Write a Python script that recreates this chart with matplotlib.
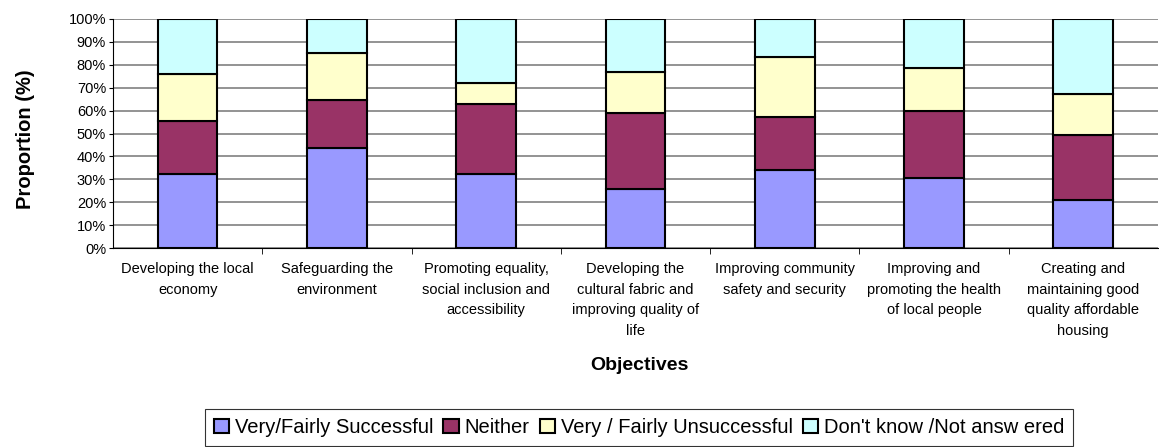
import matplotlib
matplotlib.use("Agg")
import matplotlib.pyplot as plt
import numpy as np
from matplotlib.ticker import MultipleLocator, PercentFormatter, FixedLocator

plt.rcParams["font.family"] = ["Liberation Sans", "DejaVu Sans"]

objectives = [
    "Developing the local\neconomy",
    "Safeguarding the\nenvironment",
    "Promoting equality,\nsocial inclusion and\naccessibility",
    "Developing the\ncultural fabric and\nimproving quality of\nlife",
    "Improving community\nsafety and security",
    "Improving and\npromoting the health\nof local people",
    "Creating and\nmaintaining good\nquality affordable\nhousing",
]
successful = [32.4, 43.9, 32.4, 25.9, 34.2, 30.8, 21.1]
neither = [23.1, 20.7, 30.5, 32.9, 23.0, 28.9, 28.1]
unsuccessful = [20.6, 20.6, 9.2, 18.2, 26.3, 18.9, 17.9]
dont_know = [23.9, 14.8, 27.9, 23.0, 16.5, 21.4, 32.9]

series = [
    ("Very/Fairly Successful", successful, "#9999FF"),
    ("Neither", neither, "#993366"),
    ("Very / Fairly Unsuccessful", unsuccessful, "#FFFFCC"),
    ("Don't know /Not answ ered", dont_know, "#CCFFFF"),
]

fig = plt.figure(figsize=(11.59, 4.47), dpi=100)
ax = fig.add_axes([0.0975, 0.445, 0.9015, 0.5125])

x = np.arange(len(objectives))
bottom = np.zeros(len(objectives))
for name, vals, col in series:
    ax.bar(x, vals, bottom=bottom, width=0.4, color=col, edgecolor="black",
           linewidth=1.5, label=name, zorder=3)
    bottom += np.array(vals)

ax.set_xlim(-0.5, len(objectives) - 0.5)
ax.set_ylim(0, 100)
ax.yaxis.set_major_locator(MultipleLocator(10))
ax.yaxis.set_major_formatter(PercentFormatter(decimals=0))
ax.grid(axis="y", color="#808080", linewidth=1.2, zorder=0)

ax.set_xticks(x)
ax.set_xticklabels(objectives, fontsize=10.5, linespacing=1.6, va="top")
ax.tick_params(axis="x", which="major", length=0, pad=10)
ax.xaxis.set_minor_locator(FixedLocator(np.arange(0.5, len(objectives) - 1, 1.0)))
ax.tick_params(axis="x", which="minor", length=4, color="black")
ax.tick_params(axis="y", labelsize=10.5, length=3, color="black", pad=2)

for s in ["top", "right"]:
    ax.spines[s].set_visible(False)
ax.spines["left"].set_color("black")
ax.spines["bottom"].set_color("black")

# axis titles placed on the figure so they sit where the original has them
fig.text(0.0216, 0.689, "Proportion (%)", rotation=90, ha="center", va="center",
         fontsize=14.5, fontweight="bold")
fig.text(0.5514, 1 - 365 / 447, "Objectives", ha="center", va="center",
         fontsize=14, fontweight="bold")

leg = fig.legend(loc="upper center", bbox_to_anchor=(0.5514, 1 - 409 / 447), ncol=4,
                 fontsize=14.5, frameon=True, fancybox=False, edgecolor="black",
                 handlelength=0.75, handleheight=0.75, handletextpad=0.3,
                 columnspacing=0.5, borderpad=0.45, borderaxespad=0)
leg.get_frame().set_linewidth(0.8)

fig.savefig("out.png", dpi=100)
